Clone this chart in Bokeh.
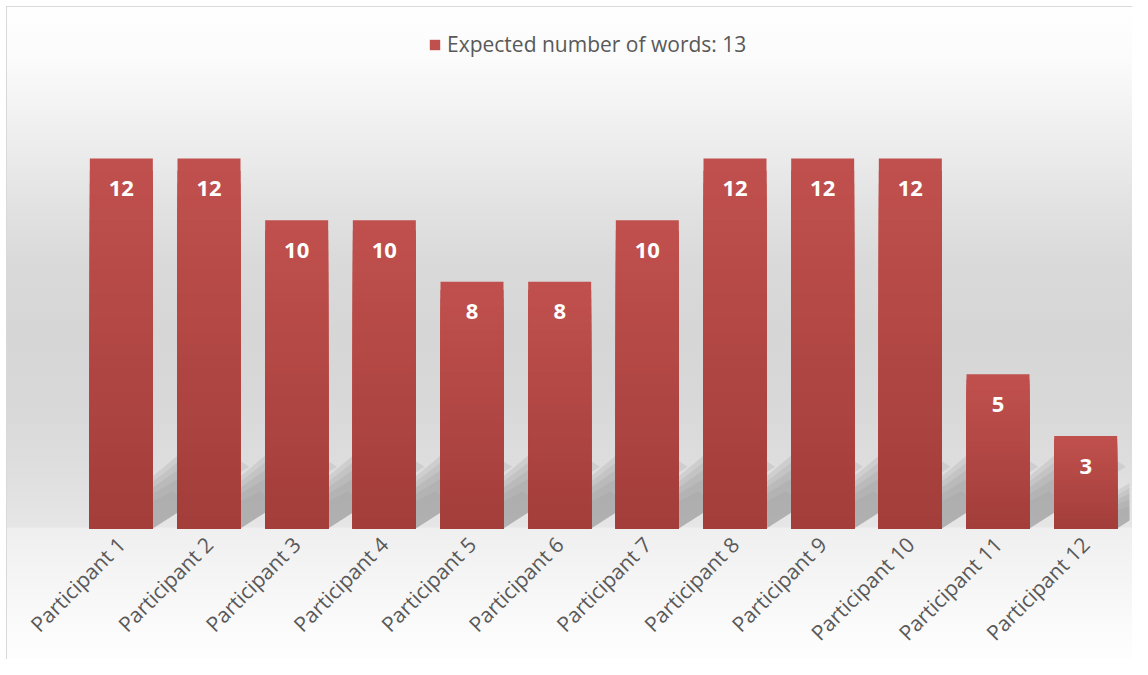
import math
from bokeh.plotting import figure
from bokeh.models import ColumnDataSource, FactorRange, Range1d, LabelSet, Legend, LegendItem
from bokeh.core.properties import value
from bokeh.embed import file_html
from bokeh.resources import INLINE

# ---- data ----
categories = ["Participant 1", "Participant 2", "Participant 3", "Participant 4",
              "Participant 5", "Participant 6", "Participant 7", "Participant 8",
              "Participant 9", "Participant 10", "Participant 11", "Participant 12"]
values = [12, 12, 10, 10, 8, 8, 10, 12, 12, 12, 5, 3]
series_name = "Expected number of words: 13"

# ---- styles ----
TOP_RGB = (192, 80, 77)
BOT_RGB = (163, 62, 59)
FONT = "Open Sans"
W, H = 1132, 659
PPU = 370 / 12.0          # pixels per unit
BASE_Y = 528              # canvas y of value 0
FRAME_TOP = 10
FRAME_BOTTOM = 532        # expected canvas y of frame bottom

bg = ("linear-gradient(#d9d9d9,#d9d9d9) 6px 6px / 1px calc(100% - 6px) no-repeat, "
      "linear-gradient(#d9d9d9,#d9d9d9) 6px 6px / calc(100% - 6px) 1px no-repeat, "
      "linear-gradient(#ffffff,#ffffff) 0 0 / 6px 100% no-repeat, "
      "linear-gradient(#ffffff,#ffffff) 0 0 / 100% 6px no-repeat, "
      "linear-gradient(to bottom, #ffffff 0px, #fbfbfb 60px, #f4f4f4 100px, #ececec 150px, "
      "#e3e3e3 200px, #dadada 260px, #d6d6d6 330px, #d8d8d8 400px, #dddddd 460px, "
      "#e6e6e6 527px, #efefef 528px, #f5f5f5 580px, #fbfbfb 630px, #ffffff 675px)")

p = figure(width=W, height=H, x_range=FactorRange(*categories, range_padding=0),
           y_range=Range1d(-(FRAME_BOTTOM - BASE_Y) / PPU, (BASE_Y - FRAME_TOP) / PPU),
           output_backend="svg", toolbar_location=None,
           min_border_left=77, min_border_right=3, min_border_top=FRAME_TOP, min_border_bottom=0)
p.styles = {"background": bg}
p.background_fill_color = None
p.border_fill_color = None
p.outline_line_color = None
p.grid.visible = False
p.yaxis.visible = False
p.xaxis.axis_line_color = None
p.xaxis.major_tick_line_color = None
p.xaxis.minor_tick_line_color = None
p.xaxis.major_tick_out = 0
p.xaxis.major_tick_in = 0
p.xaxis.major_label_orientation = math.pi / 4
p.xaxis.major_label_standoff = 8
p.xaxis.major_label_text_font = FONT
p.xaxis.major_label_text_font_size = "21px"
p.xaxis.major_label_text_color = "#595959"

# ---- soft shadows cast behind the bars ----
bw = 0.7186
for f, a in [(1.0, 0.07), (0.85, 0.05), (0.7, 0.05), (0.55, 0.04), (0.4, 0.03)]:
    xs, ys = [], []
    for i, v in enumerate(values):
        x0 = i + 0.5 - bw / 2
        x1 = i + 0.5 + bw / 2
        sc = min(1.0, v / 5.0)
        xs.append([x0 + 0.15 * (1 - f), x1, x1 + 1.1 * f * sc, x1 + 0.55 * f * sc])
        ys.append([0, 0, 2.0 * f * sc, 3.0 * f * sc])
    p.patches(xs, ys, fill_color="black", fill_alpha=a, line_color=None)

# ---- gradient bars (overlapping layers) ----
N = 30
first = None
for k in range(N):
    frac = 1 - k / N
    t = k / (N - 1)
    c = tuple(int(round(a + (b - a) * t)) for a, b in zip(TOP_RGB, BOT_RGB))
    src = ColumnDataSource(dict(x=categories, top=[v * frac for v in values]))
    r = p.vbar(x="x", top="top", width=bw, source=src, fill_color=c, line_color=None)
    if first is None:
        first = r

# ---- data labels ----
lab_src = ColumnDataSource(dict(x=categories, y=values, t=[str(v) for v in values]))
p.add_layout(LabelSet(x="x", y="y", text="t", source=lab_src, y_offset=-30,
                      text_align=value("center"), text_baseline=value("middle"),
                      text_font=value(FONT), text_font_style=value("bold"),
                      text_font_size=value("22px"), text_color=value("white")))

# ---- legend ----
legend = Legend(items=[LegendItem(label=series_name, renderers=[first])],
                location=(351, 474), orientation="horizontal",
                background_fill_alpha=0, border_line_color=None,
                label_text_font=FONT, label_text_font_size="21px", label_text_color="#595959",
                glyph_width=13, glyph_height=13, label_standoff=6, padding=0, margin=0)
p.add_layout(legend)

open("out.html", "w").write(file_html(p, INLINE))
